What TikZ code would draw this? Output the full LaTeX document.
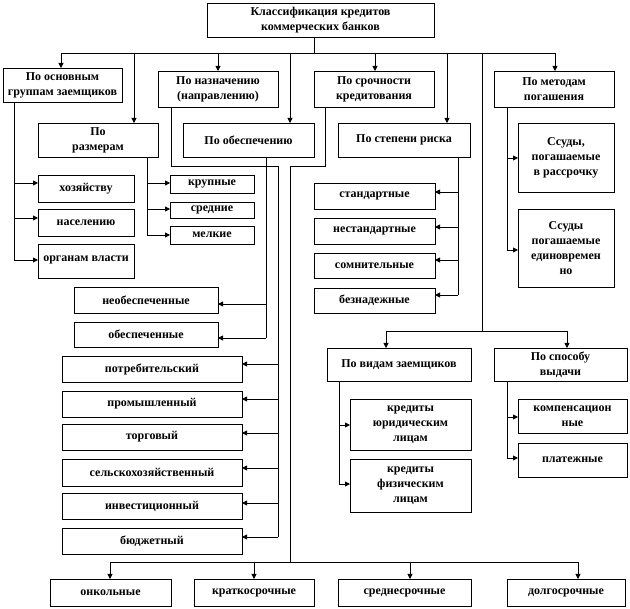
\documentclass[tikz,border=0pt]{standalone}
\usepackage{fontspec}
\setmainfont{Liberation Serif}
\usetikzlibrary{arrows.meta}
\tikzset{
  box/.style={draw, line width=0.8pt, inner sep=1pt, outer sep=0pt, align=center,
    font=\bfseries\fontsize{12}{15}\selectfont},
  ln/.style={line width=0.8pt},
  arr/.style={line width=0.8pt, -{Triangle[length=5pt,width=5pt]}}
}
\newcommand\bx[6]{\node[box, minimum width={#4pt-#2pt}, minimum height={#5pt-#3pt}] (#1) at ({(#2+#4)/2},{(#3+#5)/2}) {#6};}
\begin{document}
\begin{tikzpicture}[x=1pt,y=-1pt]
\fill[white] (0,0) rectangle (630,609);
\useasboundingbox (0,0) rectangle (630,609);
% top level
\bx{tt}{207}{3}{434}{37}{Классификация кредитов\\коммерческих банков}
\bx{osn}{3}{68}{122}{102}{По основным\\группам заемщиков}
\bx{naz}{158}{71}{278}{107}{По назначению\\(направлению)}
\bx{sroch}{314}{71}{434}{107}{По срочности\\кредитования}
\bx{met}{494}{71}{614}{107}{По методам\\погашения}
\bx{raz}{38}{123}{158}{157}{По\\размерам}
\bx{obes}{183}{123}{314}{157}{По обеспечению}
\bx{risk}{338}{123}{470}{157}{По степени риска}
% osn group
\bx{hoz}{38}{175}{134}{202}{хозяйству}
\bx{nas}{38}{209}{134}{236}{населению}
\bx{org}{38}{244}{134}{278}{\raisebox{4pt}{органам власти}}
% raz group
\bx{krup}{170}{175}{254}{193}{крупные}
\bx{sred}{170}{202}{254}{218}{средние}
\bx{mel}{170}{226}{254}{244}{мелкие}
% obes group
\bx{neob}{74}{287}{218}{313}{необеспеченные}
\bx{ob}{74}{322}{218}{347}{обеспеченные}
% naz group
\bx{potr}{62}{356}{242}{382}{потребительский}
\bx{prom}{62}{391}{242}{417}{промышленный}
\bx{torg}{62}{424}{242}{450}{торговый}
\bx{selh}{62}{459}{242}{486}{сельскохозяйственный}
\bx{inv}{62}{493}{242}{519}{инвестиционный}
\bx{bud}{62}{528}{242}{554}{бюджетный}
% risk group
\bx{stand}{314}{183}{435}{209}{стандартные}
\bx{nest}{314}{218}{435}{244}{нестандартные}
\bx{som}{314}{253}{435}{278}{сомнительные}
\bx{bezn}{314}{288}{435}{313}{безнадежные}
% met group
\bx{ss1}{518}{123}{614}{192}{Ссуды,\\погашаемые\\в рассрочку}
\bx{ss2}{518}{209}{614}{287}{Ссуды\\погашаемые\\единовремен\\но}
% lower right
\bx{vid}{327}{348}{471}{381}{По видам заемщиков}
\bx{spos}{494}{348}{627}{381}{По способу\\выдачи}
\bx{ur}{350}{399}{471}{450}{кредиты\\юридическим\\лицам}
\bx{fiz}{350}{459}{471}{512}{кредиты\\физическим\\лицам}
\bx{komp}{518}{399}{627}{433}{компенсацион\\ные}
\bx{plat}{518}{443}{627}{477}{платежные}
% bottom
\bx{onk}{50}{579}{171}{606}{онкольные}
\bx{krat}{194}{579}{314}{606}{краткосрочные}
\bx{sred2}{338}{579}{471}{606}{среднесрочные}
\bx{dolg}{507}{579}{625}{606}{долгосрочные}

% main bus
\coordinate (b0) at (314,53);
\draw[ln] (tt.south -| b0) -- (b0);
\draw[ln] (61,53) -- (555,53);
\foreach \n/\x in {osn/61, raz/134, naz/218, obes/290, sroch/375, risk/447, met/555}
  \draw[arr] (\x,53) -- (\n.north -| \x,0);
% osn branch
\coordinate (o1) at (14,260);
\draw[ln] (osn.south -| o1) -- (o1);
\foreach \n/\y in {hoz/183, nas/218, org/260}
  \draw[arr] (14,\y) -- (\n.west |- 0,\y);
% raz branch
\coordinate (r1) at (147,235);
\draw[ln] (raz.south -| r1) -- (r1);
\foreach \n/\y in {krup/183, sred/209, mel/235}
  \draw[arr] (147,\y) -- (\n.west |- 0,\y);
% obes branch
\coordinate (ob1) at (266,338);
\draw[ln] (obes.south -| ob1) -- (ob1);
\foreach \n/\y in {neob/304, ob/338}
  \draw[arr] (266,\y) -- (\n.east |- 0,\y);
% naz branch
\coordinate (n1) at (171,166);
\coordinate (n2) at (278,166);
\coordinate (n3) at (278,537);
\draw[ln] (naz.south -| n1) -- (n1) -- (n2) -- (n3);
\foreach \n/\y in {potr/364, prom/399, torg/433, selh/468, inv/503, bud/537}
  \draw[arr] (278,\y) -- (\n.east |- 0,\y);
% sroch branch
\coordinate (s1) at (325,166);
\coordinate (s2) at (290,166);
\coordinate (s3) at (290,562);
\draw[ln] (sroch.south -| s1) -- (s1) -- (s2) -- (s3);
\draw[ln] (110,562) -- (578,562);
\foreach \n/\x in {onk/110, krat/254, sred2/410, dolg/578}
  \draw[arr] (\x,562) -- (\n.north -| \x,0);
% risk branch
\coordinate (k1) at (458,295);
\draw[ln] (risk.south -| k1) -- (k1);
\foreach \n/\y in {stand/192, nest/227, som/260, bezn/295}
  \draw[arr] (458,\y) -- (\n.east |- 0,\y);
% met branch
\coordinate (m1) at (507,250);
\draw[ln] (met.south -| m1) -- (m1);
\foreach \n/\y in {ss1/158, ss2/250}
  \draw[arr] (507,\y) -- (\n.west |- 0,\y);
% lower bus
\coordinate (l1) at (482,331);
\draw[ln] (482,53) -- (l1);
\draw[ln] (386,331) -- (567,331);
\foreach \n/\x in {vid/386, spos/567}
  \draw[arr] (\x,331) -- (\n.north -| \x,0);
% vid branch
\coordinate (v1) at (339,484);
\draw[ln] (vid.south -| v1) -- (v1);
\foreach \n/\y in {ur/425, fiz/484}
  \draw[arr] (339,\y) -- (\n.west |- 0,\y);
% spos branch
\coordinate (p1) at (507,458);
\draw[ln] (spos.south -| p1) -- (p1);
\foreach \n/\y in {komp/417, plat/458}
  \draw[arr] (507,\y) -- (\n.west |- 0,\y);
\end{tikzpicture}
\end{document}
